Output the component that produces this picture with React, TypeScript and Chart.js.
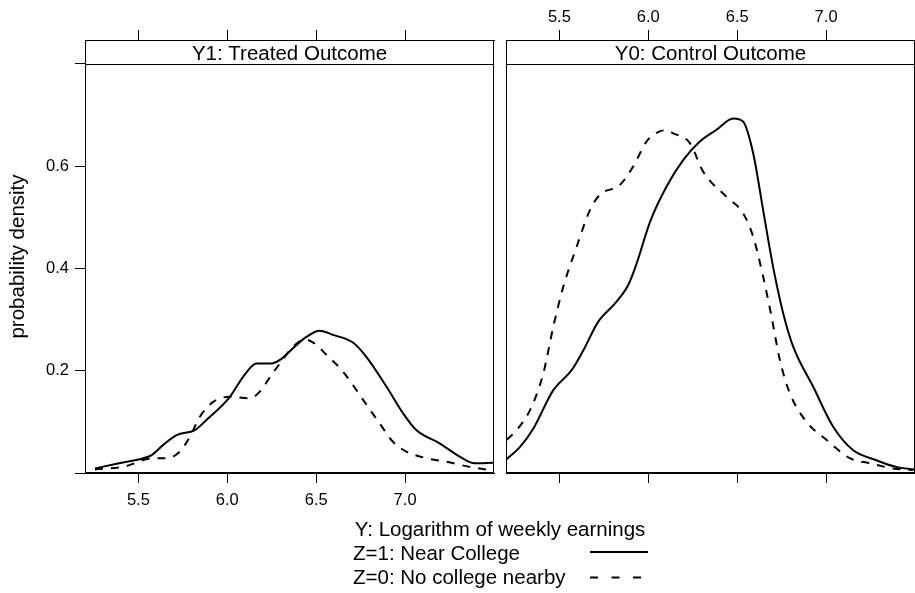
import React, { useEffect, useRef } from "react";
import { Chart, registerables } from "chart.js";
Chart.register(...registerables);

const FONT = "'Liberation Sans', Arial, Helvetica, sans-serif";

const xTicks = [5.5, 6.0, 6.5, 7.0];
const yTicks = [0, 0.2, 0.4, 0.6, 0.8];
const yLabelled = [0.2, 0.4, 0.6];
const panelTitles = ["Y1: Treated Outcome", "Y0: Control Outcome"];
const seriesLabels = ["Z=1: Near College", "Z=0: No college nearby"];
const xAxisTitle = "Y: Logarithm of weekly earnings";
const yAxisTitle = "probability density";

// Y1 panel, Z=1 (solid)
const y1NearX = [5.256, 5.378, 5.528, 5.575, 5.64, 5.715, 5.818, 5.884, 6.015, 6.089, 6.165, 6.249, 6.296, 6.37, 6.445, 6.52, 6.595, 6.707, 6.782, 6.895, 6.988, 7.063, 7.194, 7.307, 7.391, 7.494];
const y1NearY = [0.009, 0.018, 0.029, 0.035, 0.055, 0.074, 0.084, 0.104, 0.149, 0.188, 0.214, 0.214, 0.221, 0.244, 0.266, 0.278, 0.27, 0.255, 0.227, 0.169, 0.117, 0.084, 0.058, 0.032, 0.019, 0.02];
// Y1 panel, Z=0 (dashed)
const y1FarX = [5.256, 5.415, 5.584, 5.659, 5.734, 5.79, 5.846, 5.921, 6.015, 6.127, 6.183, 6.249, 6.296, 6.37, 6.436, 6.483, 6.558, 6.651, 6.764, 6.857, 6.932, 7.007, 7.119, 7.232, 7.363, 7.475];
const y1FarY = [0.007, 0.012, 0.029, 0.029, 0.042, 0.071, 0.11, 0.139, 0.149, 0.146, 0.159, 0.192, 0.214, 0.247, 0.261, 0.255, 0.231, 0.198, 0.143, 0.097, 0.061, 0.042, 0.029, 0.022, 0.012, 0.006];
// Y0 panel, Z=1 (solid)
const y0NearX = [5.204, 5.279, 5.354, 5.466, 5.569, 5.635, 5.719, 5.822, 5.888, 5.935, 6.01, 6.103, 6.197, 6.29, 6.384, 6.478, 6.533, 6.59, 6.646, 6.702, 6.759, 6.815, 6.927, 7.039, 7.151, 7.282, 7.394, 7.497];
const y0NearY = [0.027, 0.051, 0.087, 0.162, 0.201, 0.24, 0.296, 0.335, 0.368, 0.41, 0.491, 0.56, 0.612, 0.648, 0.671, 0.693, 0.687, 0.625, 0.514, 0.403, 0.312, 0.247, 0.169, 0.091, 0.045, 0.025, 0.012, 0.007];
// Y0 panel, Z=0 (dashed)
const y0FarX = [5.204, 5.26, 5.335, 5.41, 5.466, 5.522, 5.597, 5.672, 5.728, 5.84, 5.915, 5.99, 6.047, 6.095, 6.14, 6.234, 6.309, 6.44, 6.533, 6.59, 6.646, 6.693, 6.74, 6.796, 6.89, 7.002, 7.133, 7.245, 7.376, 7.488];
const y0FarY = [0.065, 0.084, 0.123, 0.195, 0.286, 0.364, 0.442, 0.514, 0.544, 0.563, 0.599, 0.648, 0.665, 0.67, 0.664, 0.645, 0.589, 0.54, 0.508, 0.462, 0.384, 0.306, 0.221, 0.156, 0.1, 0.065, 0.029, 0.019, 0.009, 0.006];

const X_MIN = 5.2;
const X_MAX = 7.5;
const Y_MAX = 0.8465;

const toPts = (xs: number[], ys: number[]) => xs.map((x, i) => ({ x, y: ys[i] }));

const stripPlugin = (title: string) => ({
  id: "strip",
  afterDraw(chart: any) {
    const { ctx, chartArea: a, scales } = chart;
    const yb = Math.round(scales.y.getPixelForValue(0.8)) + 0.5;
    ctx.save();
    ctx.strokeStyle = "#000";
    ctx.lineWidth = 1;
    const l = Math.round(a.left) + 0.5;
    const r = Math.round(a.right) - 0.5;
    const t = Math.round(a.top) + 0.5;
    const b = Math.round(a.bottom) - 0.5;
    ctx.strokeRect(l, t, r - l, b - t);
    ctx.beginPath();
    ctx.moveTo(l, yb);
    ctx.lineTo(r, yb);
    ctx.stroke();
    ctx.fillStyle = "#000";
    ctx.font = `20.5px ${FONT}`;
    ctx.textAlign = "center";
    ctx.textBaseline = "alphabetic";
    ctx.fillText(title, (a.left + a.right) / 2, a.top + 20);
    ctx.restore();
  },
});

function makeConfig(
  title: string,
  near: { x: number; y: number }[],
  far: { x: number; y: number }[],
  left: boolean,
  canvasH: number
): any {
  const tickGrid = { drawOnChartArea: false, drawTicks: true, tickLength: 10, color: "#000", lineWidth: 1 };
  const border = { display: true, color: "#000", width: 1 };
  const fmt = (v: any) => Number(v).toFixed(1);
  return {
    type: "line",
    data: {
      datasets: [
        { label: seriesLabels[0], data: near, borderColor: "#000", borderWidth: 2, pointRadius: 0, cubicInterpolationMode: "monotone", fill: false },
        { label: seriesLabels[1], data: far, borderColor: "#000", borderWidth: 2, borderDash: [8, 8], pointRadius: 0, cubicInterpolationMode: "monotone", fill: false },
      ],
    },
    options: {
      responsive: false,
      animation: false,
      events: [],
      layout: { padding: left ? { left: 0, right: 6, top: 0, bottom: 0 } : { left: 6, right: 15, top: 0, bottom: 0 } },
      plugins: { legend: { display: false }, tooltip: { enabled: false }, title: { display: false } },
      scales: {
        x: {
          type: "linear", position: "bottom", min: X_MIN, max: X_MAX,
          afterBuildTicks: (s: any) => { s.ticks = xTicks.map((v) => ({ value: v })); },
          afterFit: (s: any) => { s.height = canvasH - 473; },
          grid: tickGrid, border,
          ticks: { display: left, padding: 8, font: { size: 16.5, family: FONT }, color: "#000", callback: fmt, autoSkip: false, maxRotation: 0 },
        },
        xTop: {
          type: "linear", position: "top", min: X_MIN, max: X_MAX,
          afterBuildTicks: (s: any) => { s.ticks = xTicks.map((v) => ({ value: v })); },
          afterFit: (s: any) => { s.height = 40; },
          grid: tickGrid, border,
          ticks: { display: !left, padding: 3, font: { size: 16.5, family: FONT }, color: "#000", callback: fmt, autoSkip: false, maxRotation: 0 },
        },
        y: {
          type: "linear", position: "left", min: 0, max: Y_MAX, display: left,
          afterBuildTicks: (s: any) => { s.ticks = yTicks.map((v) => ({ value: v })); },
          afterFit: (s: any) => { s.width = left ? 85 : 0; },
          grid: tickGrid, border,
          title: { display: left, text: yAxisTitle, color: "#000", font: { size: 20.5, family: FONT }, padding: { top: 6, bottom: 0 } },
          ticks: {
            padding: 6, font: { size: 16.5, family: FONT }, color: "#000", autoSkip: false,
            callback: (v: any) => (yLabelled.some((t) => Math.abs(t - Number(v)) < 1e-6) ? Number(v).toFixed(1) : ""),
          },
        },
      },
    },
    plugins: [stripPlugin(title)],
  };
}

export default function App() {
  const leftRef = useRef<HTMLCanvasElement>(null);
  const rightRef = useRef<HTMLCanvasElement>(null);

  useEffect(() => {
    Chart.defaults.font.family = FONT;
    Chart.defaults.color = "#000";
    const c1 = new Chart(leftRef.current!, makeConfig(panelTitles[0], toPts(y1NearX, y1NearY), toPts(y1FarX, y1FarY), true, 520));
    const c2 = new Chart(rightRef.current!, makeConfig(panelTitles[1], toPts(y0NearX, y0NearY), toPts(y0FarX, y0FarY), false, 520));
    return () => {
      c1.destroy();
      c2.destroy();
    };
  }, []);

  const textStyle: React.CSSProperties = {
    position: "absolute",
    fontFamily: FONT,
    fontSize: "20.5px",
    lineHeight: "20.5px",
    color: "#000",
    whiteSpace: "nowrap",
  };

  return (
    <div style={{ position: "fixed", left: 0, top: 0, width: 915, height: 593, overflow: "hidden", background: "#fff" }}>
      <canvas ref={leftRef} width={500} height={520} style={{ position: "absolute", left: 0, top: 0, width: 500, height: 520 }} />
      <canvas ref={rightRef} width={430} height={520} style={{ position: "absolute", left: 500, top: 0, width: 430, height: 520 }} />
      <div style={{ ...textStyle, left: 300, width: 400, textAlign: "center", top: 536 - 17.4 }}>{xAxisTitle}</div>
      <div style={{ ...textStyle, left: 353, top: 560 - 17.4 }}>{seriesLabels[0]}</div>
      <div style={{ ...textStyle, left: 353, top: 584 - 17.4 }}>{seriesLabels[1]}</div>
      <svg width={915} height={593} style={{ position: "absolute", left: 0, top: 0, pointerEvents: "none" }}>
        <line x1={590} y1={552} x2={648} y2={552} stroke="#000" strokeWidth={2} />
        <line x1={590} y1={577.5} x2={648} y2={577.5} stroke="#000" strokeWidth={2} strokeDasharray="8,13.5" />
      </svg>
    </div>
  );
}
